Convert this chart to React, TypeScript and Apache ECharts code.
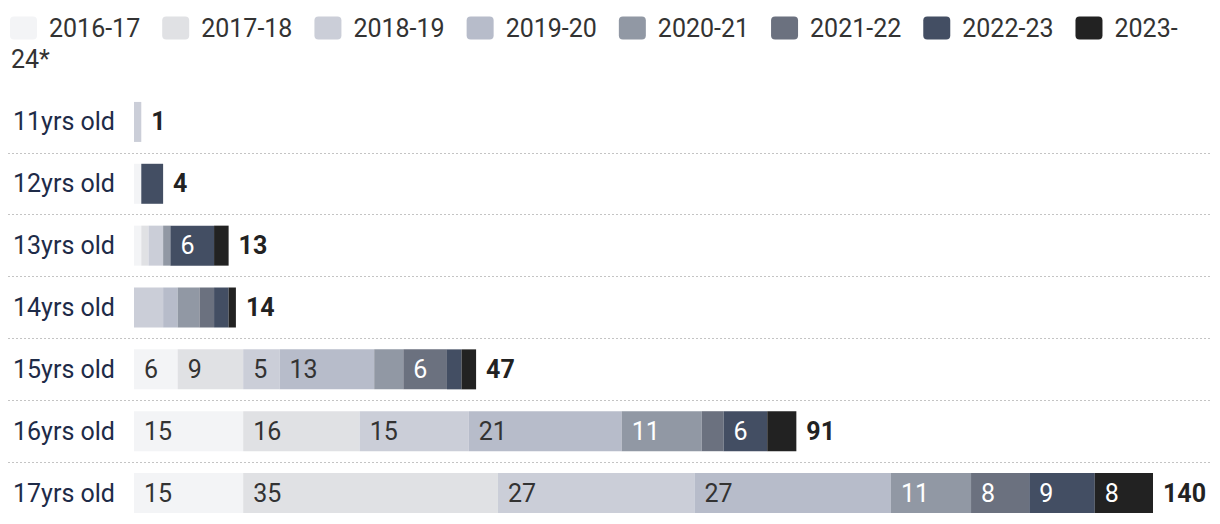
import React, { useEffect, useRef } from "react";
import * as echarts from "echarts";

const categories = ["11yrs old", "12yrs old", "13yrs old", "14yrs old", "15yrs old", "16yrs old", "17yrs old"];
const seriesNames = ["2016-17", "2017-18", "2018-19", "2019-20", "2020-21", "2021-22", "2022-23", "2023-24*"];
const s2016 = [0, 1, 1, 0, 6, 15, 15];
const s2017 = [0, 0, 1, 0, 9, 16, 35];
const s2018 = [1, 0, 2, 4, 5, 15, 27];
const s2019 = [0, 0, 0, 2, 13, 21, 27];
const s2020 = [0, 0, 1, 3, 4, 11, 11];
const s2021 = [0, 0, 0, 2, 6, 3, 8];
const s2022 = [0, 3, 6, 2, 2, 6, 9];
const s2023 = [0, 0, 2, 1, 2, 4, 8];
const seriesValues = [s2016, s2017, s2018, s2019, s2020, s2021, s2022, s2023];
const colors = ["#f3f4f6", "#e0e1e4", "#cbced8", "#b7bcca", "#9198a4", "#6b717f", "#434e63", "#222222"];
const labelColors = ["#333333", "#333333", "#333333", "#333333", "#ffffff", "#ffffff", "#ffffff", "#ffffff"];

const FONT = "Roboto";

export default function App() {
  const ref = useRef<HTMLDivElement>(null);
  useEffect(() => {
    document.body.style.margin = "0";
    const chart = echarts.init(ref.current!, null, { renderer: "svg" });
    const totals = categories.map((_, i) => seriesValues.reduce((a, s) => a + s[i], 0));
    const icon = "path://M4,0 H23 A4,4 0 0 1 27,4 V19 A4,4 0 0 1 23,23 H4 A4,4 0 0 1 0,19 V4 A4,4 0 0 1 4,0 Z";
    const series: any[] = seriesNames.map((name, k) => ({
      name,
      type: "bar",
      stack: "all",
      xAxisIndex: 0,
      yAxisIndex: 0,
      barWidth: 40,
      data: seriesValues[k],
      itemStyle: { color: colors[k] },
      label: {
        show: true,
        position: "insideLeft",
        distance: 10,
        color: labelColors[k],
        fontFamily: FONT,
        fontSize: 25,
        formatter: (p: any) => (p.value >= 5 ? String(p.value) : ""),
      },
    }));
    series.push({
      name: "Total",
      type: "bar",
      stack: "all",
      xAxisIndex: 0,
      yAxisIndex: 0,
      barWidth: 40,
      data: categories.map(() => 0),
      itemStyle: { color: "transparent" },
      label: {
        show: true,
        position: "right",
        distance: 10,
        color: "#222222",
        fontFamily: FONT,
        fontWeight: "bold",
        fontSize: 25,
        formatter: (p: any) => String(totals[p.dataIndex]),
      },
    });
    chart.setOption({
      animation: false,
      legend: {
        data: seriesNames,
        left: 10,
        top: 13,
        width: 1210,
        padding: 0,
        itemWidth: 27,
        itemHeight: 23,
        itemGap: 22,
        icon,
        selectedMode: false,
        formatter: (name: string) => (name === "2023-24*" ? "2023-" : name),
        textStyle: {
          fontFamily: FONT,
          fontSize: 25,
          color: "#333333",
          padding: [0, 0, 0, 7],
          lineHeight: 30,
        },
      },
      graphic: [
        {
          type: "text",
          left: 11,
          top: 47,
          style: { text: "24*", fontFamily: FONT, fontSize: 25, fill: "#333333" },
        },
      ],
      grid: [
        { left: 134, right: 67, top: 91, height: 434, containLabel: false },
        { left: 8, right: 10, top: 91, height: 434, containLabel: false },
      ],
      xAxis: [
        { type: "value", gridIndex: 0, min: 0, max: 140, show: false },
        { type: "value", gridIndex: 1, min: 0, max: 1, show: false },
      ],
      yAxis: [
        {
          type: "category",
          gridIndex: 0,
          data: categories,
          inverse: true,
          axisLine: { show: false },
          axisTick: { show: false },
          splitLine: { show: false },
          axisLabel: {
            align: "left",
            margin: 121,
            color: "#1e2b48",
            fontFamily: FONT,
            fontSize: 25,
          },
        },
        {
          type: "value",
          gridIndex: 1,
          min: 0,
          max: 7,
          interval: 1,
          inverse: true,
          axisLine: { show: false },
          axisTick: { show: false },
          axisLabel: { show: false },
          splitLine: {
            show: true,
            showMinLine: false,
            showMaxLine: false,
            lineStyle: { type: [2, 2], color: "#c4c4c4", width: 1 },
          },
        },
      ],
      series,
    });
    return () => chart.dispose();
  }, []);
  return <div ref={ref} style={{ width: 1220, height: 524 }} />;
}
